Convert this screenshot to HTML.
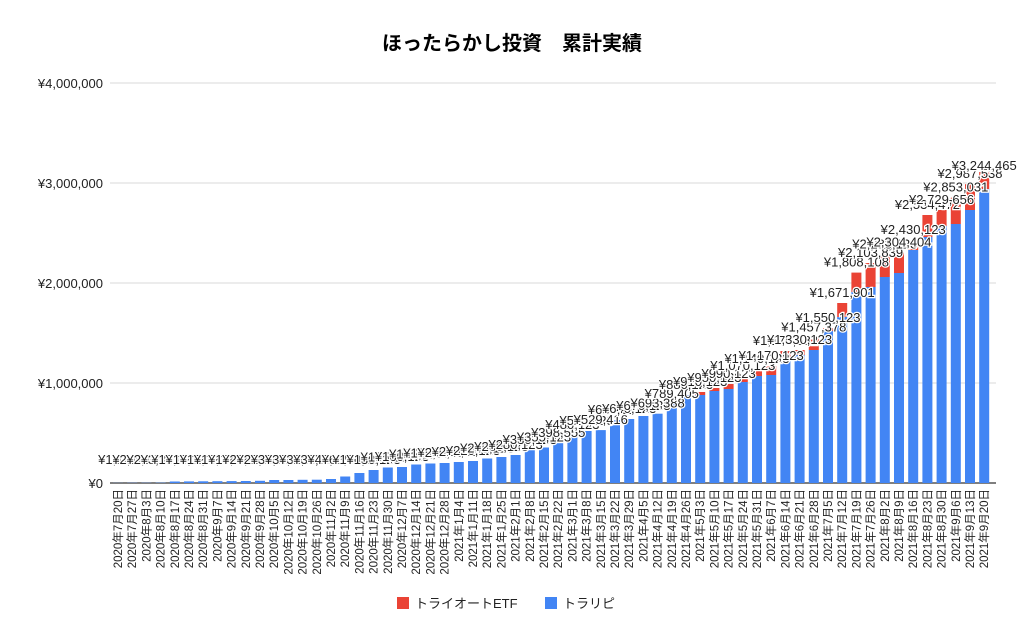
<!DOCTYPE html>
<html><head><meta charset="utf-8">
<style>
html,body{margin:0;padding:0;background:#fff;}
svg{display:block;font-family:"Liberation Sans","Noto Sans CJK JP",sans-serif;}
</style></head>
<body>
<svg id="c" width="1024" height="643" viewBox="0 0 1024 643" xmlns="http://www.w3.org/2000/svg">
<rect width="1024" height="643" fill="#fff"/>
<text x="512" y="50" text-anchor="middle" font-size="20" font-weight="bold" fill="#000">ほったらかし投資　累計実績</text>
<g id="grid"></g>
<g id="bars"></g>
<g id="labels"></g>
<g id="xl"></g>
<rect x="397" y="597" width="12" height="12" fill="#ea4335"/>
<text x="415" y="608" font-size="13" fill="#222">トライオートETF</text>
<rect x="545" y="597" width="12" height="12" fill="#4285f4"/>
<text x="563" y="608" font-size="13" fill="#222">トラリピ</text>
</svg>
<script>
var NS="http://www.w3.org/2000/svg";
function el(t,a,p,txt){var e=document.createElementNS(NS,t);for(var k in a)e.setAttribute(k,a[k]);if(txt!=null)e.textContent=txt;document.getElementById(p).appendChild(e);return e;}
var y0=483,sc=100/1e6;
var ylab=["¥0","¥1,000,000","¥2,000,000","¥3,000,000","¥4,000,000"];
for(var i=0;i<5;i++){var y=y0-i*100;
 if(i>0)el("line",{x1:110,x2:996,y1:y,y2:y,stroke:"#d9d9d9","stroke-width":1},"grid");
 el("text",{x:103,y:y+5,"text-anchor":"end","font-size":13,fill:"#222"},"grid",ylab[i]);}
var tot=[1,2,2,3,15,16,17,18,19,20,22,30,30,32,33,40,65,100,130,155,160,185,195,200,210,220,245,260,280,330,355,398,480,520,529,630,640,670,693,789,880,910,950,990,1070,1140,1170,1320,1330,1457,1550,1800,2104,2200,2283,2304,2430,2680,2730,2853,2988,3110];
var blu=tot.slice();
var bo={41:880,42:920,43:940,44:1010,45:1070,46:1080,47:1240,48:1280,49:1330,50:1520,51:1660,52:1910,53:1960,54:2060,55:2100,56:2330,57:2460,58:2570,59:2590,60:2730,61:2940};
for(var k in bo)blu[k]=bo[k];
var lbl={31:"¥398,555",34:"¥529,416",38:"¥693,388",39:"¥789,405",47:"¥1,170,682",49:"¥1,457,378",51:"¥1,671,901",52:"¥1,808,108",53:"¥2,103,839",55:"¥2,304,404",57:"¥2,534,472",58:"¥2,729,656",59:"¥2,853,031",60:"¥2,987,538",61:"¥3,244,465"};
function fmt(v){return "¥"+Math.round(v*1000+123).toString().replace(/\B(?=(\d{3})+(?!\d))/g,",");}
var d=Date.UTC(2020,6,20);
for(var i=0;i<62;i++){
 var cx=118+i*14.2,w=10;
 var yt=y0-tot[i]*1000*sc,yb=y0-blu[i]*1000*sc;
 if(tot[i]>blu[i])el("rect",{x:cx-w/2,y:yt,width:w,height:yb-yt,fill:"#ea4335"},"bars");
 el("rect",{x:cx-w/2,y:yb,width:w,height:y0-yb,fill:"#4285f4"},"bars");
 var ly=Math.min(yt-6,464);if(i==61)ly=170;
 var s=lbl[i]||fmt(tot[i]);
 el("text",{x:cx,y:ly,"text-anchor":"middle","font-size":13,fill:"#222",stroke:"#fff","stroke-width":2.5,"paint-order":"stroke"},"labels",s);
 var dt=new Date(d+i*7*864e5);
 var str=dt.getUTCFullYear()+"年"+(dt.getUTCMonth()+1)+"月"+dt.getUTCDate()+"日";
 el("text",{x:0,y:0,"text-anchor":"end","font-size":11.5,fill:"#222",transform:"translate("+(cx+4)+",489) rotate(-90)"},"xl",str);
}
el("line",{x1:110,x2:996,y1:y0,y2:y0,stroke:"#333","stroke-width":1.2},"grid");
</script>
</body></html>
